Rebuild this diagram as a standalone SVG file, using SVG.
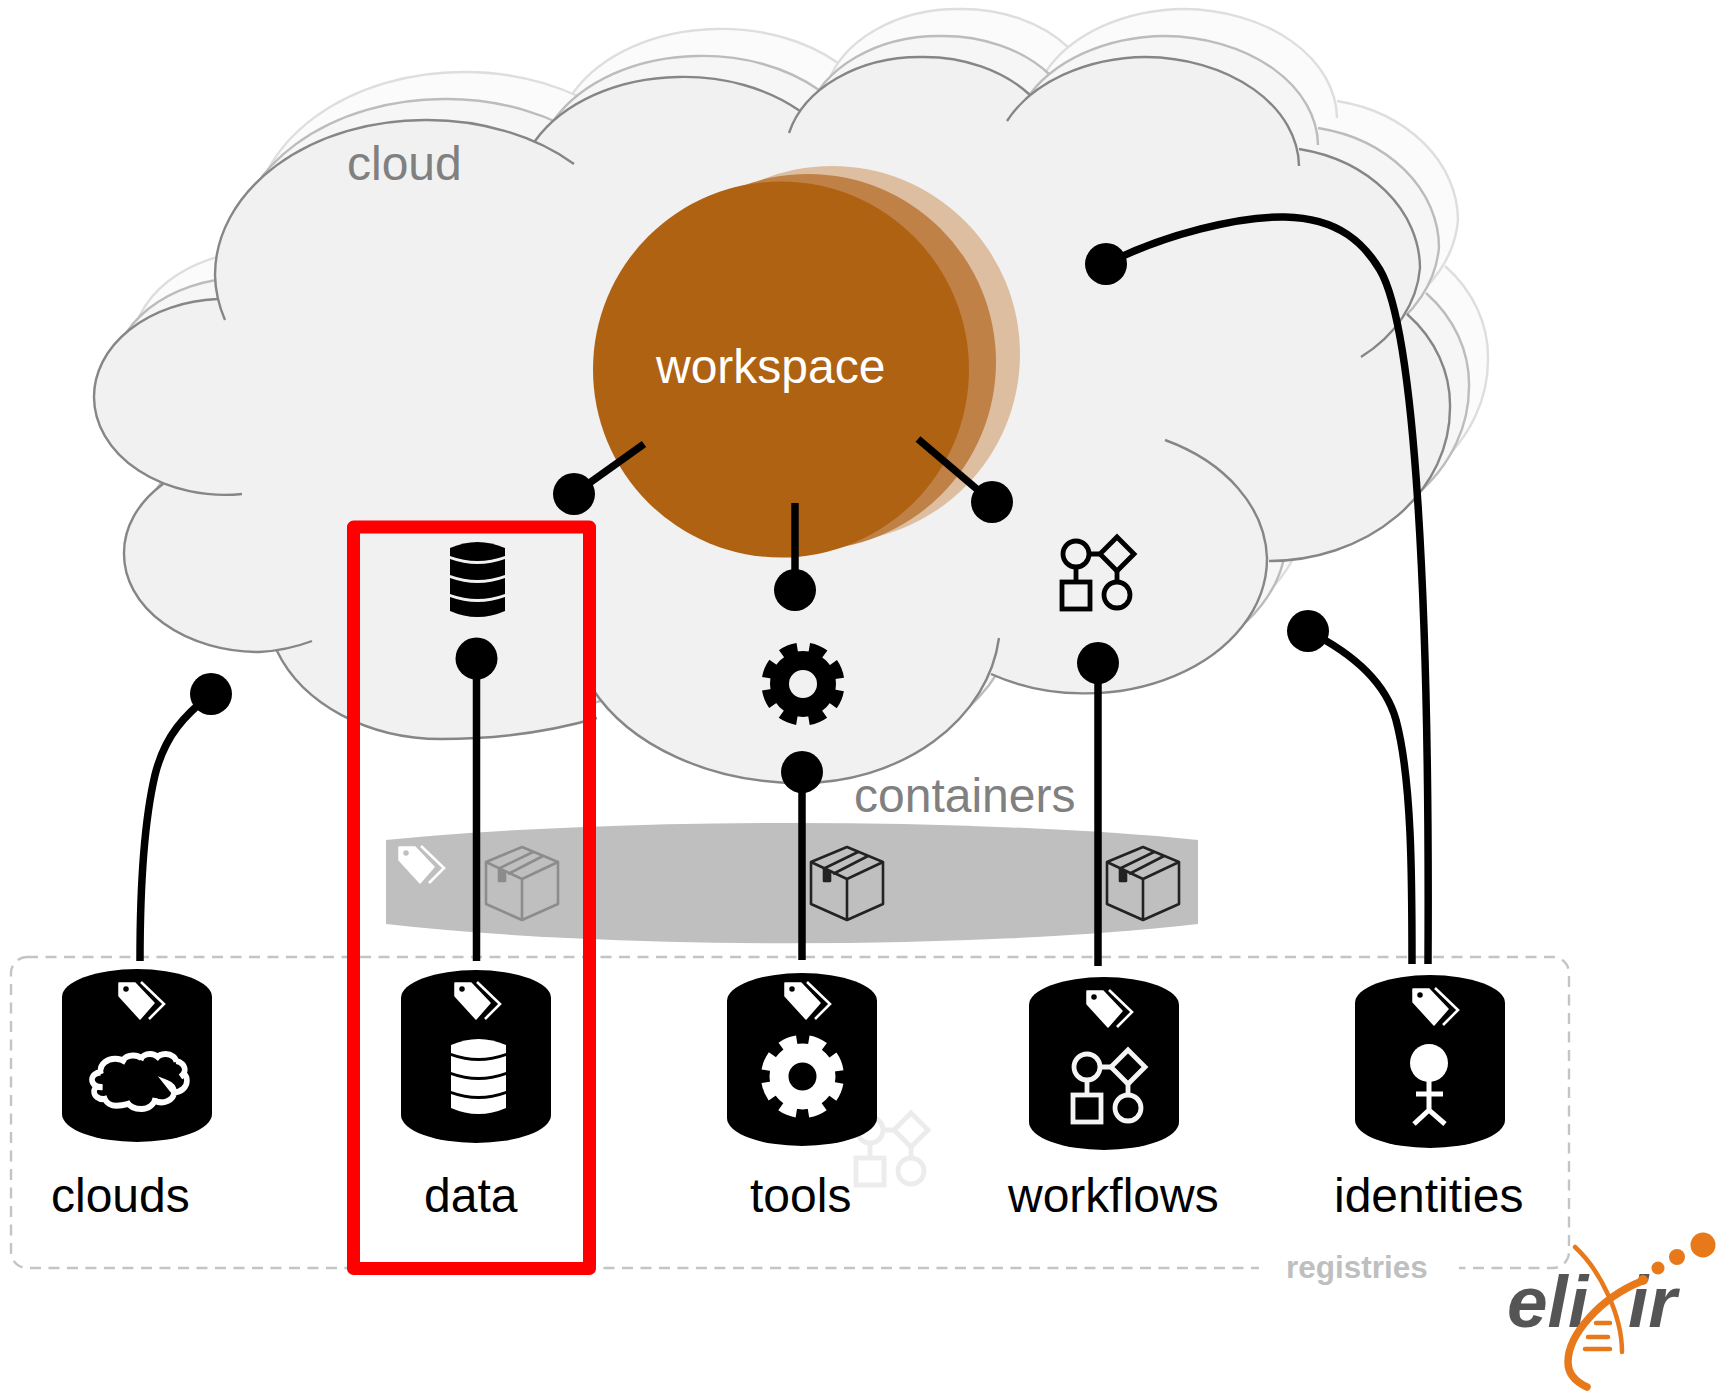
<svg xmlns="http://www.w3.org/2000/svg" xmlns:xlink="http://www.w3.org/1999/xlink" width="1729" height="1391" viewBox="0 0 1729 1391">
<style>
text{font-family:"Liberation Sans",Arial,sans-serif;font-size:48px}
.grey{fill:#808080}
.lab{fill:#000}
.arc{fill:none;stroke-width:2.4}
.conn path,.conn line{fill:none;stroke:#000;stroke-width:7.5}
.conn circle{fill:#000}
.wf *{fill:none;stroke:currentColor;stroke-width:4.8}
.gear circle{fill:none;stroke:currentColor}
.box *{fill:none;stroke:currentColor;stroke-width:2.6;stroke-linejoin:round}
.box .tab{fill:currentColor}
.strand{fill:none;stroke:#e8791a;stroke-linecap:round}
</style>
<defs>
<path id="cfill" d="M225,320 A210 155 0 0 1 215,275 A210 155 0 0 1 425,120 A210 155 0 0 1 574,164 L535,141 A165 118 0 0 1 678,77 A165 118 0 0 1 800,111 L789,133 A135 100 0 0 1 920,57 A135 100 0 0 1 1030,95 L1007,121 A155 110 0 0 1 1146,57 A155 110 0 0 1 1299,166 L1299,149 A150 122 0 0 1 1420,268 A150 122 0 0 1 1361,357 L1407,314 A150 130 0 0 1 1450,408 A181 153 0 0 1 1269,561 L1165,440 A182 135 0 0 1 1267,558 A182 135 0 0 1 991,674 L999,638 A200 163 0 0 1 800,783 A229 163 0 0 1 592,688 L597,718 A300 144 0 0 1 441,739 A175 135 0 0 1 277,651 L312,641 A135 98 0 0 1 259,652 A135 98 0 0 1 124,554 A135 98 0 0 1 163,484 L242,494 A131 98 0 0 1 94,397 A131 98 0 0 1 217,299 Z"/>
<path id="cline" d="M225,320 A210 155 0 0 1 215,275 A210 155 0 0 1 425,120 A210 155 0 0 1 574,164 M535,141 A165 118 0 0 1 678,77 A165 118 0 0 1 800,111 M789,133 A135 100 0 0 1 920,57 A135 100 0 0 1 1030,95 M1007,121 A155 110 0 0 1 1146,57 A155 110 0 0 1 1299,166 M1299,149 A150 122 0 0 1 1420,268 A150 122 0 0 1 1361,357 M1407,314 A150 130 0 0 1 1450,408 A181 153 0 0 1 1269,561 M1165,440 A182 135 0 0 1 1267,558 A182 135 0 0 1 991,674 M999,638 A200 163 0 0 1 800,783 A229 163 0 0 1 592,688 M597,718 A300 144 0 0 1 441,739 A175 135 0 0 1 277,651 M312,641 A135 98 0 0 1 259,652 A135 98 0 0 1 124,554 A135 98 0 0 1 163,484 M242,494 A131 98 0 0 1 94,397 A131 98 0 0 1 217,299"/>
<path id="cyl" d="M0,28 A75 28 0 0 1 150,28 V145 A75 28 0 0 1 0,145 Z" fill="#000"/>
<g id="tag">
<path fill="#fff" fill-rule="evenodd" stroke="#fff" stroke-width="1.5" stroke-linejoin="round" d="M1,2 H17 L36,22 L22,38 L1,15 Z M11.500,8 a3.500 3.500 0 1 0 -7,0 a3.500 3.500 0 1 0 7,0 Z"/>
<path fill="none" stroke="#fff" stroke-width="2.600" d="M23,1 L46,23 L31,38"/>
</g>
<g id="db">
<path d="M0,6 Q27.500,-6 55,6 V14 Q27.500,24 0,14 Z"/>
<path d="M0,17 Q27.500,27 55,17 V33 Q27.500,43 0,33 Z"/>
<path d="M0,36 Q27.500,46 55,36 V52 Q27.500,62 0,52 Z"/>
<path d="M0,55 Q27.500,65 55,55 V69 Q27.500,81 0,69 Z"/>
</g>
<g id="gear" class="gear">
<circle r="23.500" stroke-width="19"/>
<circle r="36" stroke-width="11" stroke-dasharray="16.500 11.774" stroke-dashoffset="8.250" transform="rotate(22.500)"/>
</g>
<g id="wf" class="wf">
<circle cx="16" cy="19" r="13"/>
<path d="M57,2 L74,19 L57,36 L40,19 Z"/>
<circle cx="57" cy="60" r="13"/>
<rect x="2" y="47" width="28" height="27"/>
<path d="M29,19 H40 M16,32 V47 M57,36 V47"/>
</g>
<g id="box" class="box">
<path d="M37,1 L73,16 V58 L37,74 L1,58 V16 Z M1,16 L37,33 L73,16 M37,33 V74 M13,23 L48,6 M23,28 L58,10"/>
<path class="tab" d="M14,23 V35 H20 V26 Z"/>
</g>
</defs>

<g id="cloud">
<g transform="translate(38,-48)"><use href="#cfill" fill="#fbfbfb"/><use href="#cline" class="arc" stroke="#dedede"/></g>
<g transform="translate(19,-21)"><use href="#cfill" fill="#f6f6f6"/><use href="#cline" class="arc" stroke="#bcbcbc"/></g>
<use href="#cfill" fill="#f1f1f1"/><use href="#cline" class="arc" stroke="#868686"/>
<text class="grey" x="347" y="180">cloud</text>
</g>

<g id="workspace">
<circle cx="832" cy="354" r="188" fill="#ddbea0"/>
<circle cx="808" cy="362" r="188" fill="#c08146"/>
<circle cx="781" cy="369.500" r="188" fill="#b06213"/>
<text x="656" y="383" fill="#fff">workspace</text>
</g>

<g id="cloud-data-icon"><use href="#db" transform="translate(450,542)" fill="#000"/></g>
<g id="cloud-tools-icon" style="color:#000"><use href="#gear" transform="translate(803,684)"/></g>
<g id="cloud-workflows-icon" style="color:#000"><use href="#wf" transform="translate(1060,535)"/></g>

<g id="containers">
<path fill="#bfbfbf" d="M386,840 A582 60 0 0 1 1198,840 V924 A582 68 0 0 1 386,924 Z"/>
<text class="grey" x="854" y="812">containers</text>
<use href="#tag" transform="translate(398,845)"/>
<use href="#box" transform="translate(485,846)" style="color:#8c8c8c"/>
<use href="#box" transform="translate(810,846)" style="color:#222"/>
<use href="#box" transform="translate(1106,846)" style="color:#222"/>
</g>

<g id="registries">
<rect x="11" y="957" width="1558" height="311" rx="16" fill="none" stroke="#c4c4c4" stroke-width="2.400" stroke-dasharray="11 7.500"/>
<rect x="1259" y="1255" width="200" height="26" fill="#fff"/>
<text x="1286" y="1278" fill="#bfbfbf" font-weight="700" style="font-size:31.500px">registries</text>
<use href="#wf" transform="translate(854,1111)" style="color:#ececec"/>
</g>

<g id="clouds">
<use href="#cyl" transform="translate(62,969)"/>
<use href="#tag" transform="translate(118,981)"/>
<use href="#cfill" transform="translate(85.400,1049.700) scale(.07,.0758)" fill="#000" stroke="#fff" style="stroke-width:80"/>
<text class="lab" x="51" y="1212">clouds</text>
</g>
<g id="data">
<use href="#cyl" transform="translate(401,970)"/>
<use href="#tag" transform="translate(454,981)"/>
<use href="#db" transform="translate(451,1039)" fill="#fff"/>
<text class="lab" x="424" y="1212">data</text>
</g>
<g id="tools" style="color:#fff">
<use href="#cyl" transform="translate(727,973)"/>
<use href="#tag" transform="translate(784,981)"/>
<use href="#gear" transform="translate(802.500,1076.500)"/>
<text class="lab" x="750" y="1212">tools</text>
</g>
<g id="workflows" style="color:#f4f4f4">
<use href="#cyl" transform="translate(1029,977)"/>
<use href="#tag" transform="translate(1086,989)"/>
<use href="#wf" transform="translate(1071,1048)"/>
<text class="lab" x="1008" y="1212">workflows</text>
</g>
<g id="identities">
<use href="#cyl" transform="translate(1355,975)"/>
<use href="#tag" transform="translate(1412,987)"/>
<circle cx="1429" cy="1063" r="19" fill="#fff"/>
<path fill="none" stroke="#fff" stroke-width="5" d="M1429,1080 V1110 M1416,1094 H1443 M1414,1124 L1429,1110 L1445,1124"/>
<text class="lab" x="1334" y="1212">identities</text>
</g>

<g id="connectors" class="conn">
<line x1="644" y1="444" x2="574" y2="494"/><circle cx="574" cy="494" r="21"/>
<line x1="795" y1="503" x2="795" y2="590"/><circle cx="795" cy="590" r="21"/>
<line x1="918" y1="439" x2="992" y2="502"/><circle cx="992" cy="502" r="21"/>
<path d="M1106,264 C1165,234 1240,216 1285,217 C1340,218 1365,245 1380,270 C1415,330 1430,600 1428,964"/><circle cx="1106" cy="264" r="21"/>
<path d="M1308,631 C1350,652 1385,680 1396,720 C1412,780 1412,880 1412,964"/><circle cx="1308" cy="631" r="21"/>
<path d="M211,694 C185,715 165,735 155,775 C142,830 140,900 140,961"/><circle cx="211" cy="694" r="21"/>
<line x1="476.500" y1="658" x2="476.500" y2="961"/><circle cx="476.500" cy="658.500" r="21"/>
<line x1="802" y1="772" x2="802" y2="960"/><circle cx="802" cy="772" r="21"/>
<line x1="1098" y1="663" x2="1098" y2="966"/><circle cx="1098" cy="663" r="21"/>
</g>

<rect id="highlight" x="353.500" y="527" width="236" height="741.500" fill="none" stroke="#ff0000" stroke-width="13" stroke-linejoin="round"/>

<g id="elixir-logo">
<text x="1507" y="1327" fill="#555" font-weight="700" font-style="italic" style="font-size:73px">eli</text>
<text x="1628" y="1327" fill="#555" font-weight="700" font-style="italic" style="font-size:73px">ir</text>
<path class="strand" stroke-width="4.500" d="M1575,1247 C1600,1270 1622,1315 1622,1352"/>
<path class="strand" stroke-width="7.500" d="M1642,1281 C1600,1298 1568,1335 1568,1362 C1568,1374 1576,1382 1587,1387"/>
<path class="strand" stroke-width="4.500" d="M1596,1323 H1610 M1588,1337 H1608 M1585,1349 H1610"/>
<circle cx="1703" cy="1245" r="12.500" fill="#e8791a"/>
<circle cx="1677" cy="1257" r="8" fill="#e8791a"/>
<circle cx="1658" cy="1268" r="6.500" fill="#e8791a"/>
<circle cx="1643" cy="1280" r="5" fill="#e8791a"/>
</g>
</svg>
